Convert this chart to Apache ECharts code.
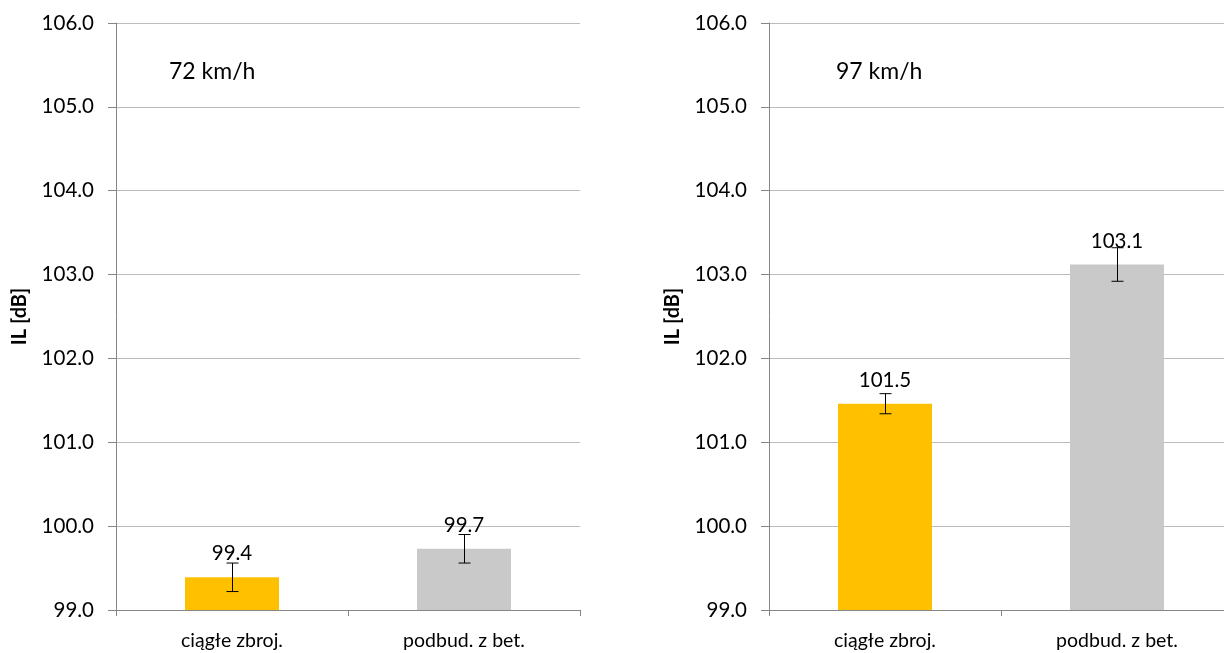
<!DOCTYPE html>
<html>
<head>
<meta charset="utf-8">
<script src="https://cdn.jsdelivr.net/npm/echarts@6/dist/echarts.min.js"></script>
<style>
  html, body { margin: 0; padding: 0; background: #ffffff; }
  #chart { width: 1224px; height: 653px; }
</style>
</head>
<body>
<div id="chart"></div>
<script>
// Categories and measured IL values (dB) with error half-widths
const categories = ['ciągłe zbroj.', 'podbud. z bet.'];
const panelTitles = ['72 km/h', '97 km/h'];
const values72 = [99.39, 99.73];
const errors72 = [0.17, 0.17];
const values97 = [101.46, 103.12];
const errors97 = [0.12, 0.2];
const barColors = ['#FFC000', '#C9C9C9'];
const yTicks = { min: 99, max: 106, interval: 1 };

const FONT = 'Lato, "Open Sans", sans-serif';
const FS = 20.5;
const chart = echarts.init(document.getElementById('chart'));

function yAxisFor(gridIndex) {
  return {
    type: 'value', gridIndex: gridIndex,
    min: yTicks.min, max: yTicks.max, interval: yTicks.interval,
    name: 'IL [dB]', nameLocation: 'middle', nameGap: 86,
    nameTextStyle: { fontFamily: FONT, fontWeight: 'bold', fontSize: 20, color: '#000' },
    axisLine: { show: true, lineStyle: { color: '#868686', width: 1 } },
    axisTick: { show: true, length: 8, lineStyle: { color: '#868686' } },
    axisLabel: { margin: 22, fontFamily: FONT, fontSize: FS, color: '#000',
      formatter: v => v.toFixed(1) },
    splitLine: { show: true, lineStyle: { color: '#BCBCBC', width: 1 } }
  };
}

function xAxisFor(gridIndex) {
  return {
    type: 'category', gridIndex: gridIndex, data: categories,
    axisLine: { show: true, lineStyle: { color: '#868686', width: 1 } },
    axisTick: { show: true, length: 6, alignWithLabel: false, lineStyle: { color: '#868686' } },
    axisLabel: { margin: 21, fontFamily: FONT, fontSize: 19.5, color: '#000' }
  };
}

function barSeries(idx, values) {
  return {
    type: 'bar', xAxisIndex: idx, yAxisIndex: idx, barWidth: 94,
    data: values.map((v, i) => ({ value: v, itemStyle: { color: barColors[i] } })),
    label: { show: true, position: 'top', distance: 13, fontFamily: FONT, fontSize: FS,
      color: '#000', formatter: p => p.value.toFixed(1) },
    z: 2
  };
}

function errorSeries(idx, values, errors) {
  return {
    type: 'custom', xAxisIndex: idx, yAxisIndex: idx, z: 3,
    data: values.map((v, i) => [i, v - errors[i], v + errors[i]]),
    renderItem: function (params, api) {
      const lo = api.coord([api.value(0), api.value(1)]);
      const hi = api.coord([api.value(0), api.value(2)]);
      const x = Math.round(lo[0]) + 0.5, w = 6;
      const style = { stroke: '#000', lineWidth: 1 };
      return {
        type: 'group',
        children: [
          { type: 'line', shape: { x1: x, y1: hi[1], x2: x, y2: lo[1] }, style: style },
          { type: 'line', shape: { x1: x - w, y1: hi[1], x2: x + w, y2: hi[1] }, style: style },
          { type: 'line', shape: { x1: x - w, y1: lo[1], x2: x + w, y2: lo[1] }, style: style }
        ]
      };
    }
  };
}

chart.setOption({
  animation: false,
  backgroundColor: '#ffffff',
  title: [
    { text: panelTitles[0], left: 164, top: 55, textStyle: { fontFamily: FONT, fontSize: 23, fontWeight: 'normal', color: '#000' } },
    { text: panelTitles[1], left: 831, top: 55, textStyle: { fontFamily: FONT, fontSize: 23, fontWeight: 'normal', color: '#000' } }
  ],
  grid: [
    { left: 116, top: 23, width: 464, height: 587, outerBoundsMode: 'none' },
    { left: 769, top: 23, width: 464, height: 587, outerBoundsMode: 'none' }
  ],
  xAxis: [xAxisFor(0), xAxisFor(1)],
  yAxis: [yAxisFor(0), yAxisFor(1)],
  series: [
    barSeries(0, values72), errorSeries(0, values72, errors72),
    barSeries(1, values97), errorSeries(1, values97, errors97)
  ]
});
</script>
</body>
</html>
